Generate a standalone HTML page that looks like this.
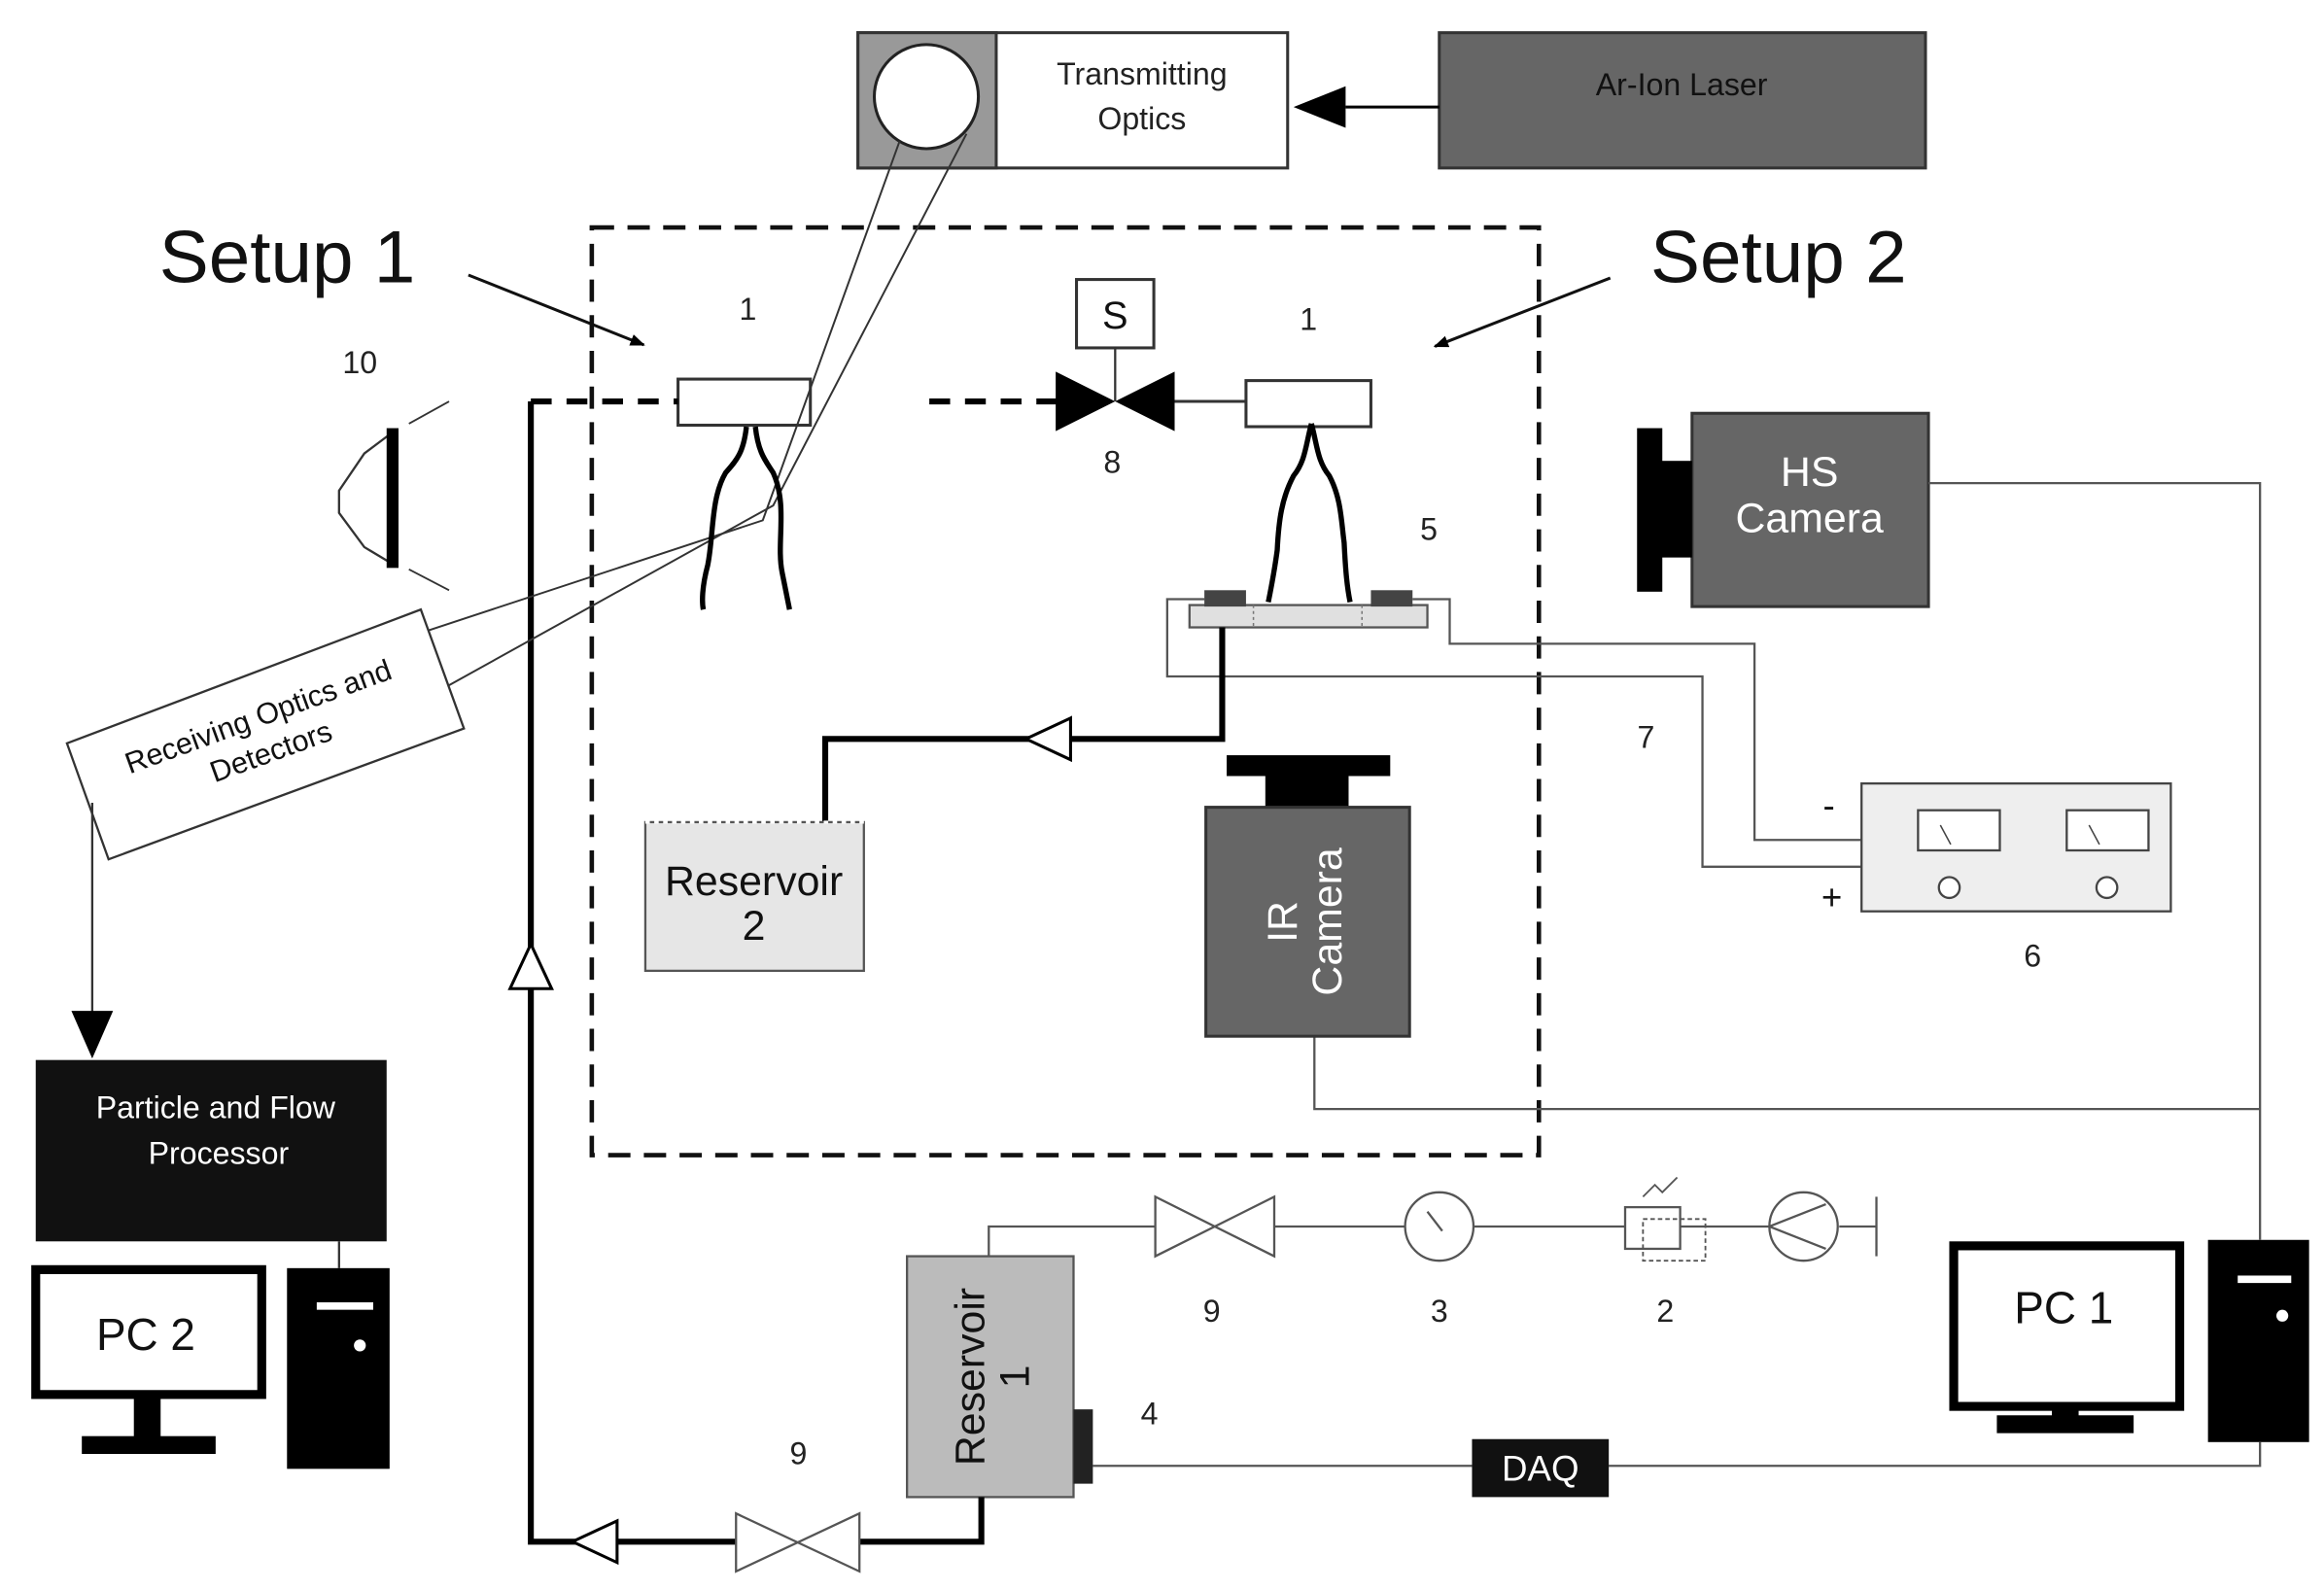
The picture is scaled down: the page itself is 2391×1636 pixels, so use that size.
<!DOCTYPE html>
<html><head><meta charset="utf-8"><style>html,body{margin:0;padding:0;background:#fff}svg{display:block}text{font-family:"Liberation Sans",sans-serif}</style></head><body>
<svg width="2391" height="1636" viewBox="0 0 1563 1069.5" xmlns="http://www.w3.org/2000/svg">
<defs>
<marker id="ah" markerWidth="10" markerHeight="8" refX="9" refY="4" orient="auto" markerUnits="userSpaceOnUse"><path d="M0,0 L10,4 L0,8 z" fill="#000"/></marker>
</defs>
<rect width="1563" height="1070" fill="#fff"/>
<rect x="577" y="22" width="289" height="91" fill="#fff" stroke="#333" stroke-width="2"/>
<rect x="577" y="22" width="93" height="91" fill="#999" stroke="#333" stroke-width="2"/>
<circle cx="623" cy="65" r="35" fill="#fff" stroke="#222" stroke-width="2"/>
<text x="768" y="57" font-size="21" text-anchor="middle" fill="#222">Transmitting</text>
<text x="768" y="87" font-size="21" text-anchor="middle" fill="#222">Optics</text>
<rect x="968" y="22" width="327" height="91" fill="#666" stroke="#333" stroke-width="2"/>
<text x="1131" y="64" font-size="21" text-anchor="middle" fill="#111">Ar-Ion Laser</text>
<line x1="968" y1="72" x2="905" y2="72" stroke="#000" stroke-width="2"/>
<path d="M905,58 L870,72 L905,86 z" fill="#000"/>
<rect x="398" y="153" width="637" height="624" fill="none" stroke="#111" stroke-width="3" stroke-dasharray="15 9"/>
<text x="107" y="190" font-size="50" fill="#111">Setup 1</text>
<text x="1110" y="190" font-size="50" fill="#111">Setup 2</text>
<line x1="315" y1="185" x2="433" y2="232" stroke="#111" stroke-width="2" marker-end="url(#ah)"/>
<line x1="1083" y1="187" x2="965" y2="233" stroke="#111" stroke-width="2" marker-end="url(#ah)"/>
<g font-size="21" fill="#222" text-anchor="middle">
<text x="503" y="215">1</text><text x="880" y="222">1</text><text x="242" y="251">10</text>
<text x="748" y="318">8</text><text x="961" y="363">5</text><text x="1107" y="503">7</text>
<text x="1367" y="650">6</text><text x="815" y="889">9</text><text x="968" y="889">3</text>
<text x="1120" y="889">2</text><text x="537" y="985">9</text><text x="773" y="958">4</text>
</g>
<rect x="456" y="255" width="89" height="31" fill="#fff" stroke="#333" stroke-width="2"/>
<rect x="838" y="256" width="84" height="31" fill="#fff" stroke="#333" stroke-width="2"/>
<line x1="357" y1="270" x2="456" y2="270" stroke="#000" stroke-width="4" stroke-dasharray="14 10"/>
<line x1="625" y1="270" x2="712" y2="270" stroke="#000" stroke-width="4" stroke-dasharray="14 10"/>
<polyline points="357,270 357,1037 497,1037" fill="none" stroke="#000" stroke-width="4"/>
<path d="M343,665 L357,635 L371,665 z" fill="#fff" stroke="#000" stroke-width="2"/>
<path d="M415,1023 L385,1037 L415,1051 z" fill="#fff" stroke="#000" stroke-width="2"/>
<path d="M710,250 L710,290 L790,250 L790,290 z" fill="#000"/>
<line x1="790" y1="270" x2="838" y2="270" stroke="#333" stroke-width="2"/>
<rect x="724" y="188" width="52" height="46" fill="#fff" stroke="#333" stroke-width="2"/>
<text x="750" y="221" font-size="26" text-anchor="middle" fill="#111">S</text>
<line x1="750" y1="234" x2="750" y2="270" stroke="#333" stroke-width="1.5"/>
<g stroke="#333" stroke-width="1.3" fill="none">
<polyline points="605,95 513,350 270,430"/>
<polyline points="650,90 520,340 300,462"/>
</g>
<g stroke="#000" stroke-width="3.5" fill="none">
<path d="M502,287 C500,305 495,310 488,318 C478,335 480,360 476,380 C472,395 472,405 473,410"/>
<path d="M508,287 C510,305 515,310 520,318 C530,340 522,365 526,385 C528,395 530,405 531,410"/>
<path d="M882,285 C878,300 878,310 870,320 C862,335 860,350 859,370 C857,385 855,395 853,405"/>
<path d="M882,285 C886,300 886,310 894,320 C902,335 902,350 904,365 C905,385 906,395 908,405"/>
</g>
<path d="M265,290 L245,305 L228,330 L228,345 L245,368 L265,380" fill="#fff" stroke="#333" stroke-width="1.5"/>
<rect x="260" y="288" width="8" height="94" fill="#000"/>
<line x1="275" y1="285" x2="302" y2="270" stroke="#333" stroke-width="1.2"/>
<line x1="275" y1="383" x2="302" y2="397" stroke="#333" stroke-width="1.2"/>
<polygon points="45,500 283,410 312,490 73,578" fill="#fff" stroke="#333" stroke-width="1.5"/>
<g transform="rotate(-20 178 494)" font-size="20" fill="#111" text-anchor="middle">
<text x="178" y="488">Receiving Optics and</text>
<text x="178" y="513">Detectors</text>
</g>
<line x1="62" y1="540" x2="62" y2="685" stroke="#333" stroke-width="1.5"/>
<path d="M48,680 L62,712 L76,680 z" fill="#000"/>
<rect x="24" y="713" width="236" height="122" fill="#111"/>
<text x="145" y="752" font-size="21" fill="#fff" text-anchor="middle">Particle and Flow</text>
<text x="147" y="783" font-size="21" fill="#fff" text-anchor="middle">Processor</text>
<line x1="228" y1="835" x2="228" y2="853" stroke="#333" stroke-width="1.5"/>
<rect x="24" y="854" width="152" height="84" fill="#fff" stroke="#000" stroke-width="6"/>
<text x="98" y="908" font-size="30" text-anchor="middle" fill="#111">PC 2</text>
<rect x="90" y="940" width="18" height="28" fill="#000"/><rect x="55" y="966" width="90" height="12" fill="#000"/>
<rect x="193" y="853" width="69" height="135" fill="#000"/>
<rect x="213" y="876" width="38" height="5" fill="#fff"/><circle cx="242" cy="905" r="4" fill="#fff"/>
<rect x="1314" y="838" width="152" height="108" fill="#fff" stroke="#000" stroke-width="6"/>
<text x="1388" y="890" font-size="30" text-anchor="middle" fill="#111">PC 1</text>
<rect x="1380" y="948" width="18" height="14" fill="#000"/><rect x="1343" y="952" width="92" height="12" fill="#000"/>
<rect x="1485" y="834" width="68" height="136" fill="#000"/>
<rect x="1505" y="858" width="36" height="5" fill="#fff"/><circle cx="1535" cy="885" r="4" fill="#fff"/>
<rect x="1138" y="278" width="159" height="130" fill="#666" stroke="#333" stroke-width="2"/>
<rect x="1101" y="288" width="17" height="110" fill="#000"/><rect x="1116" y="310" width="22" height="65" fill="#000"/>
<text x="1217" y="327" font-size="28" fill="#fff" text-anchor="middle">HS</text>
<text x="1217" y="358" font-size="28" fill="#fff" text-anchor="middle">Camera</text>
<g stroke="#555" stroke-width="1.5" fill="none">
<polyline points="1297,325 1520,325 1520,834"/>
<polyline points="884,697 884,746 1520,746"/>
<polyline points="735,986 990,986"/>
<polyline points="1082,986 1520,986 1520,970"/>
</g>
<rect x="990" y="968" width="92" height="39" fill="#111"/>
<text x="1036" y="996" font-size="24" fill="#fff" text-anchor="middle">DAQ</text>
<rect x="825" y="508" width="110" height="14" fill="#000"/>
<rect x="851" y="520" width="56" height="25" fill="#000"/>
<rect x="811" y="543" width="137" height="154" fill="#666" stroke="#333" stroke-width="2"/>
<g transform="rotate(-90 880 620)" font-size="28" fill="#fff" text-anchor="middle">
<text x="880" y="612">IR</text><text x="880" y="642">Camera</text>
</g>
<g stroke="#555" stroke-width="1.5" fill="none">
<polyline points="810,403 785,403 785,455 1145,455 1145,583 1252,583"/>
<polyline points="950,403 975,403 975,433 1180,433 1180,565 1252,565"/>
</g>
<rect x="800" y="407" width="160" height="15" fill="#e0e0e0" stroke="#555" stroke-width="1.5"/>
<line x1="843" y1="407" x2="843" y2="422" stroke="#777" stroke-dasharray="2 2"/>
<line x1="916" y1="407" x2="916" y2="422" stroke="#777" stroke-dasharray="2 2"/>
<rect x="810" y="397" width="28" height="11" fill="#444"/>
<rect x="922" y="397" width="28" height="11" fill="#444"/>
<text x="1230" y="550" font-size="24" fill="#111" text-anchor="middle">-</text>
<text x="1232" y="612" font-size="24" fill="#111" text-anchor="middle">+</text>
<polyline points="822,422 822,497 555,497 555,555" fill="none" stroke="#000" stroke-width="4"/>
<path d="M720,483 L690,497 L720,511 z" fill="#fff" stroke="#000" stroke-width="2"/>
<rect x="434" y="553" width="147" height="100" fill="#e6e6e6" stroke="#555" stroke-width="1.5"/>
<line x1="434" y1="553" x2="581" y2="553" stroke="#fff" stroke-width="2" stroke-dasharray="3 3"/>
<text x="507" y="602" font-size="28" fill="#111" text-anchor="middle">Reservoir</text>
<text x="507" y="632" font-size="28" fill="#111" text-anchor="middle">2</text>
<rect x="1252" y="527" width="208" height="86" fill="#eee" stroke="#444" stroke-width="1.5"/>
<rect x="1290" y="545" width="55" height="27" fill="#fff" stroke="#444" stroke-width="1.5"/>
<rect x="1390" y="545" width="55" height="27" fill="#fff" stroke="#444" stroke-width="1.5"/>
<line x1="1305" y1="555" x2="1312" y2="568" stroke="#444"/><line x1="1405" y1="555" x2="1412" y2="568" stroke="#444"/>
<circle cx="1311" cy="597" r="7" fill="#fff" stroke="#444" stroke-width="1.5"/>
<circle cx="1417" cy="597" r="7" fill="#fff" stroke="#444" stroke-width="1.5"/>
<rect x="610" y="845" width="112" height="162" fill="#bbb" stroke="#555" stroke-width="1.5"/>
<g transform="rotate(-90 668 926)" font-size="28" fill="#111" text-anchor="middle">
<text x="668" y="920">Reservoir</text><text x="668" y="950">1</text>
</g>
<rect x="722" y="948" width="13" height="50" fill="#222"/>
<g stroke="#555" stroke-width="1.5" fill="none">
<polyline points="665,845 665,825 777,825"/>
<line x1="857" y1="825" x2="945" y2="825"/>
<line x1="991" y1="825" x2="1093" y2="825"/>
<line x1="1130" y1="825" x2="1190" y2="825"/>
<line x1="1237" y1="825" x2="1262" y2="825"/>
<line x1="1262" y1="805" x2="1262" y2="845"/>
<polyline points="660,1007 660,1037 578,1037" stroke="#000" stroke-width="4"/>
</g>
<path d="M777,805 L777,845 L857,805 L857,845 z" fill="#fff" stroke="#555" stroke-width="1.5"/>
<circle cx="968" cy="825" r="23" fill="#fff" stroke="#555" stroke-width="1.5"/>
<line x1="960" y1="815" x2="970" y2="828" stroke="#555" stroke-width="1.5"/>
<rect x="1093" y="812" width="37" height="28" fill="#fff" stroke="#555" stroke-width="1.5"/>
<rect x="1105" y="820" width="42" height="28" fill="none" stroke="#555" stroke-width="1.2" stroke-dasharray="3 2"/>
<path d="M1105,805 l8,-8 l5,5 l10,-10" fill="none" stroke="#555" stroke-width="1.2"/>
<circle cx="1213" cy="825" r="23" fill="#fff" stroke="#555" stroke-width="1.5"/>
<path d="M1190,825 L1228,810 M1190,825 L1228,840" stroke="#555" stroke-width="1.5" fill="none"/>
<path d="M495,1018 L495,1057 L578,1018 L578,1057 z" fill="#fff" stroke="#555" stroke-width="1.5"/>
</svg>
</body></html>
